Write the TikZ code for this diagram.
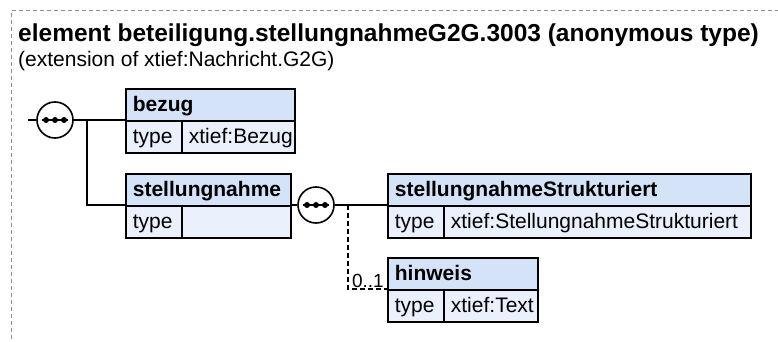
\documentclass[tikz,border=0pt]{standalone}
\usepackage{fontspec}
\setmainfont{Liberation Sans}
\usetikzlibrary{calc}
\definecolor{hdr}{HTML}{D4E3F8}
\definecolor{bdy}{HTML}{EAF1FC}
\definecolor{frm}{HTML}{909090}
\newcommand\cellc[2]{\makebox[#1][l]{\hspace{7pt}#2}}
\begin{document}
\begin{tikzpicture}[x=1pt,y=-1pt,
  cell/.style={draw=black, line width=1.8pt, inner sep=0pt, anchor=north west,
    minimum height=32pt, text height=16pt, text depth=2pt,
    font=\fontsize{21}{24}\selectfont},
  hdrcell/.style={cell, fill=hdr, font=\fontsize{21}{24}\selectfont\bfseries},
  bdycell/.style={cell, fill=bdy},
  seqc/.style={circle, draw=black, line width=1.6pt, fill=white, minimum size=36pt, inner sep=0pt},
  conn/.style={line width=1.7pt},
  optconn/.style={conn, dash pattern=on 5pt off 3pt},
  frame/.style={draw=frm, line width=1pt, dash pattern=on 4pt off 3pt}]
\clip (0,0) rectangle (778,342);
\useasboundingbox (0,0) rectangle (778,342);
\fill[white] (0,0) rectangle (778,342);
% frame
\draw[frame] (11,360) -- (11,11) -- (800,11);
% title
\node[anchor=base west, inner sep=0pt, font=\fontsize{24.5}{28}\selectfont\bfseries] (title) at (18,42)
  {element beteiligung.stellungnahmeG2G.3003 (anonymous type)};
\node[anchor=base west, inner sep=0pt, font=\fontsize{21}{25}\selectfont] (subtitle) at (18,67)
  {(extension of xtief:Nachricht.G2G)};
% bezug
\node[hdrcell] (bezugH) at (125,88) {\cellc{169pt}{bezug}};
\node[bdycell] (bezugT) at (125,120) {\cellc{56pt}{type}};
\node[bdycell] (bezugV) at (181,120) {\cellc{113pt}{xtief:Bezug}};
% stellungnahme
\node[hdrcell] (stH) at (125,173) {\cellc{165pt}{stellungnahme}};
\node[bdycell] (stT) at (125,205) {\cellc{56pt}{type}};
\node[bdycell] (stV) at (181,205) {\cellc{109pt}{}};
% stellungnahmeStrukturiert
\node[hdrcell] (ssH) at (387,173) {\cellc{363pt}{stellungnahmeStrukturiert}};
\node[bdycell] (ssT) at (387,205) {\cellc{56pt}{type}};
\node[bdycell] (ssV) at (443,205) {\cellc{307pt}{xtief:StellungnahmeStrukturiert}};
% hinweis
\node[hdrcell] (hiH) at (387,257) {\cellc{150pt}{hinweis}};
\node[bdycell] (hiT) at (387,289) {\cellc{56pt}{type}};
\node[bdycell] (hiV) at (443,289) {\cellc{94pt}{xtief:Text}};
% sequence compositors
\node[seqc] (seq1) at (55,120) {};
\node[seqc] (seq2) at (316,205) {};
\foreach \s in {seq1,seq2}{
  \draw[line width=1.6pt] ($(\s.center)+(-13,0)$) -- ($(\s.center)+(13,0)$);
  \foreach \d in {-9,0,9} \fill ($(\s.center)+(\d,0)$) circle (3pt);
}
% connectors
\coordinate (in1) at (28,120);
\coordinate (j1) at (87,120);
\coordinate (j2) at (348,205);
\draw[conn] (in1) -- (seq1.west);
\draw[conn] (seq1.east) -- (j1) -- (bezugT.north west);
\draw[conn] (j1) |- (stT.north west);
\draw[conn] (stV.north east) -- (seq2.west);
\draw[conn] (seq2.east) -- (j2) -- (ssT.north west);
\draw[optconn] (j2) |- (hiT.north west);
\node[anchor=base east, inner sep=0pt, font=\fontsize{19}{22}\selectfont] (occ) at ($(hiT.north west)+(-3,-2)$) {0..1};
\end{tikzpicture}
\end{document}
